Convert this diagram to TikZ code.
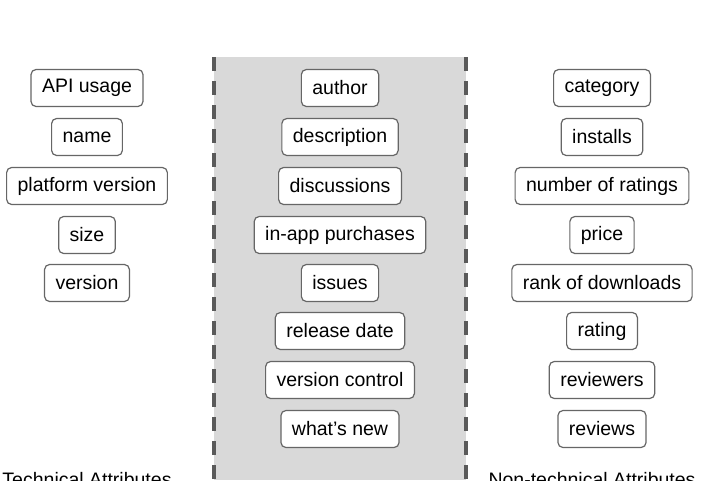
\documentclass[tikz,border=0pt]{standalone}
\usepackage{fontspec}
\setmainfont{Liberation Sans}
\usetikzlibrary{positioning}

\definecolor{bandgray}{HTML}{D9D9D9}
\definecolor{edgegray}{HTML}{5A5A5A}
\definecolor{boxgray}{HTML}{666666}

\tikzset{
  attr/.style={draw=boxgray, line width=1.2pt, rounded corners=5pt, fill=white,
    minimum height=37pt, inner xsep=11pt, font=\fontsize{19.5}{23}\selectfont},
  grouplabel/.style={font=\fontsize{19.5}{23}\selectfont, anchor=base},
  divider/.style={draw=edgegray, line width=3.2pt, dash pattern=on 14pt off 10pt}
}

\begin{document}
\begin{tikzpicture}[x=1pt,y=-1pt]
        \useasboundingbox (0,0) rectangle (703,480);
        % Middle band
        \fill[bandgray] (214,57) rectangle (466,480);
        \coordinate (bandtl) at (214,57);
        \coordinate (bandbl) at (214,480);
        \coordinate (bandtr) at (466,57);
        \coordinate (bandbr) at (466,480);
        \draw[divider] (bandtl) -- (bandbl);
        \draw[divider] (bandtr) -- (bandbr);
        % Technical attributes (left)
        \node[attr] (api) at (87,88) {API usage};
        \node[attr] (name) at (87,137) {name};
        \node[attr] (platform) at (87,186) {platform version};
        \node[attr] (size) at (87,235) {size};
        \node[attr] (version) at (87,283) {version};
        % Mixed attributes (middle)
        \node[attr] (author) at (340,88) {author};
        \node[attr] (description) at (340,137) {description};
        \node[attr] (discussions) at (340,186) {discussions};
        \node[attr] (inapp) at (340,235) {in-app purchases};
        \node[attr] (issues) at (340,283) {issues};
        \node[attr] (release) at (340,331) {release date};
        \node[attr] (vcontrol) at (340,380) {version control};
        \node[attr] (whatsnew) at (340,429) {what’s new};
        % Non-technical attributes (right)
        \node[attr] (category) at (602,88) {category};
        \node[attr] (installs) at (602,137) {installs};
        \node[attr] (nratings) at (602,186) {number of ratings};
        \node[attr] (price) at (602,235) {price};
        \node[attr] (rank) at (602,283) {rank of downloads};
        \node[attr] (rating) at (602,331) {rating};
        \node[attr] (reviewers) at (602,380) {reviewers};
        \node[attr] (reviews) at (602,429) {reviews};
        % Group labels
        \node[grouplabel] (techlabel) at (87,486) {Technical Attributes};
        \node[grouplabel] (nontechlabel) at (592,486) {Non-technical Attributes};
      \end{tikzpicture}
\end{document}
